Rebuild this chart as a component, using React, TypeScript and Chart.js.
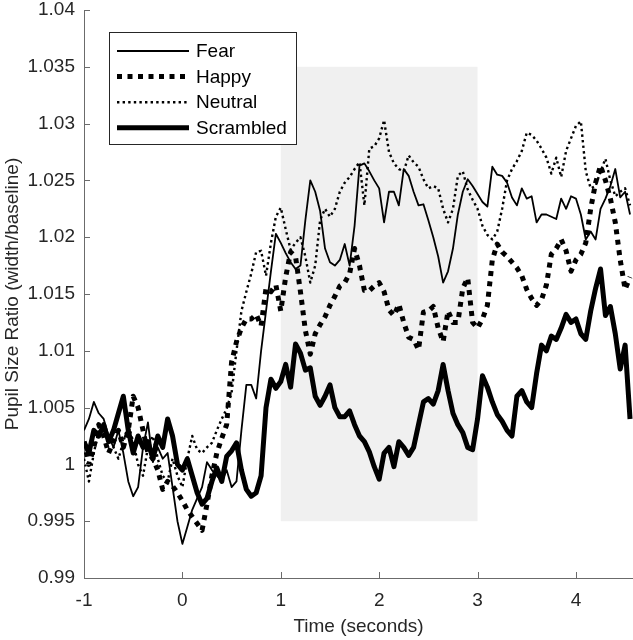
import React, { useEffect, useRef } from "react";
import { Chart, registerables } from "chart.js";

Chart.register(...registerables);

// Time (seconds)
const time = [
  -1, -0.95, -0.9, -0.85, -0.8, -0.75, -0.7, -0.65, -0.6, -0.55, -0.5, -0.45, -0.4, -0.35, -0.3, -0.25, -0.2, -0.15, -0.1, -0.05,
  0, 0.05, 0.1, 0.15, 0.2, 0.25, 0.3, 0.35, 0.4, 0.45, 0.5, 0.55, 0.6, 0.65, 0.7, 0.75, 0.8, 0.85, 0.9, 0.95,
  1, 1.05, 1.1, 1.15, 1.2, 1.25, 1.3, 1.35, 1.4, 1.45, 1.5, 1.55, 1.6, 1.65, 1.7, 1.75, 1.8, 1.85, 1.9, 1.95,
  2, 2.05, 2.1, 2.15, 2.2, 2.25, 2.3, 2.35, 2.4, 2.45, 2.5, 2.55, 2.6, 2.65, 2.7, 2.75, 2.8, 2.85, 2.9, 2.95,
  3, 3.05, 3.1, 3.15, 3.2, 3.25, 3.3, 3.35, 3.4, 3.45, 3.5, 3.55, 3.6, 3.65, 3.7, 3.75, 3.8, 3.85, 3.9, 3.95,
  4, 4.05, 4.1, 4.15, 4.2, 4.25, 4.3, 4.35, 4.4, 4.45, 4.5, 4.55,
];

const fear = [
  1.003, 1.004, 1.0055, 1.0045, 1.004, 1.0025, 1.0015, 1.003, 1.001, 0.9985, 0.9972, 0.998, 1.0015, 1.0037, 1.0002, 1.0015, 1.0005, 1.001, 0.998, 0.995,
  0.993, 0.9945, 0.996, 0.997, 0.998, 1.0002, 0.9995, 0.999, 0.9985, 0.9995, 0.998, 0.9985, 1.003, 1.007, 1.007, 1.0058, 1.01, 1.0135, 1.017, 1.0203,
  1.0195, 1.0186, 1.0178, 1.0172, 1.0175, 1.0215, 1.025, 1.024, 1.0223, 1.019, 1.0178, 1.0175, 1.018, 1.0194, 1.0175, 1.021, 1.0263, 1.0265, 1.0258, 1.025,
  1.0243, 1.0213, 1.024, 1.024, 1.0228, 1.026, 1.0254, 1.024, 1.0228, 1.0229, 1.0215, 1.02, 1.0183, 1.016, 1.017, 1.019, 1.022, 1.024, 1.0251, 1.0245,
  1.0238, 1.0231, 1.0227, 1.0262, 1.0255, 1.0254, 1.0248, 1.0235, 1.0228, 1.0243, 1.0234, 1.0236, 1.0213, 1.022, 1.022, 1.0218, 1.0216, 1.0234, 1.0225, 1.0236,
  1.0234, 1.022, 1.0198, 1.0205, 1.0198, 1.0225, 1.0234, 1.0245, 1.026, 1.0235, 1.024, 1.022,
];

const happy = [
  1.002, 1.0, 1.0015, 1.0035, 1.0025, 1.001, 1.002, 1.003, 1.0015, 1.003, 1.006, 1.005, 1.003, 1.001, 1.0005, 0.9995, 0.9978, 0.9985, 0.9981, 0.9975,
  0.9968, 0.996, 0.9954, 0.9948, 0.9942, 0.9965, 0.999, 1.001, 1.0023, 1.0035, 1.009, 1.0108, 1.012, 1.0128, 1.0128, 1.0132, 1.0122, 1.0155, 1.0152, 1.0158,
  1.0135, 1.0165, 1.0187, 1.0183, 1.0152, 1.0118, 1.0097, 1.0115, 1.0123, 1.013, 1.014, 1.0148, 1.0157, 1.016, 1.0168, 1.019, 1.0175, 1.0153, 1.0153, 1.0157,
  1.016, 1.0152, 1.0136, 1.0131, 1.0141, 1.0125, 1.0112, 1.011, 1.0101, 1.0134, 1.0135, 1.0139, 1.012, 1.0108, 1.0135, 1.0125, 1.0125, 1.0155, 1.0164, 1.0125,
  1.012, 1.0128, 1.014, 1.018, 1.0194, 1.0187, 1.0183, 1.0178, 1.0173, 1.0166, 1.0154, 1.0146, 1.014, 1.0145, 1.0158, 1.0185, 1.019, 1.0198, 1.0188, 1.017,
  1.018, 1.0185, 1.0195, 1.0225, 1.0248, 1.0263, 1.025, 1.0234, 1.0213, 1.018, 1.0154, 1.0165,
];

const neutral = [
  1.0005, 0.9985, 1.001, 1.003, 1.0035, 1.0025, 1.0015, 1.0005, 1.002, 1.0035, 1.002, 1.0, 0.999, 1.0015, 1.0025, 1.0005, 0.999, 0.9985, 1.0005, 0.999,
  0.998, 1.0005, 1.0025, 1.0013, 1.001, 1.0015, 1.0019, 1.003, 1.004, 1.0049, 1.0063, 1.01, 1.0135, 1.0152, 1.0168, 1.0187, 1.0188, 1.0166, 1.0195, 1.0218,
  1.0226, 1.0207, 1.0189, 1.0195, 1.02, 1.0183, 1.016, 1.0175, 1.0215, 1.0225, 1.0218, 1.0225, 1.024, 1.0248, 1.0253, 1.026, 1.0266, 1.0228, 1.0278, 1.028,
  1.0287, 1.0303, 1.0275, 1.0265, 1.026, 1.0258, 1.0272, 1.0266, 1.0262, 1.0251, 1.0243, 1.0245, 1.0243, 1.0225, 1.0213, 1.0225, 1.0254, 1.0258, 1.0242, 1.0233,
  1.0225, 1.021, 1.0202, 1.0198, 1.0205, 1.0225, 1.025, 1.026, 1.0267, 1.0276, 1.0292, 1.029, 1.0285, 1.0278, 1.027, 1.0256, 1.027, 1.0253, 1.0276, 1.0287,
  1.0298, 1.0302, 1.0258, 1.0243, 1.0245, 1.0258, 1.0269, 1.025, 1.0236, 1.024, 1.0243, 1.0228,
];

const scrambled = [
  1.002, 1.001, 1.003, 1.0025, 1.0035, 1.002, 1.003, 1.0045, 1.006, 1.003, 1.001, 1.0025, 1.0015, 1.002, 1.0005, 1.0025, 1.0015, 1.004, 1.0025, 1.0,
  0.9995, 1.0005, 0.999, 0.9975, 0.9965, 0.997, 0.9985, 0.9997, 0.9985, 1.0007, 1.0012, 1.0019, 0.9995, 0.9978, 0.9972, 0.9975, 0.999, 1.005, 1.0075, 1.0067,
  1.0073, 1.0088, 1.0068, 1.0106, 1.0098, 1.0083, 1.0085, 1.006, 1.0052, 1.006, 1.007, 1.005, 1.0042, 1.0042, 1.0047, 1.0035, 1.0025, 1.002, 1.0011, 0.9998,
  0.9987, 1.001, 1.0015, 0.9998, 1.002, 1.0015, 1.0008, 1.0015, 1.0035, 1.0055, 1.0058, 1.0053, 1.0065, 1.0088, 1.0065, 1.0045, 1.0035, 1.0028, 1.0015, 1.0013,
  1.004, 1.0078, 1.0068, 1.0055, 1.0044, 1.0038, 1.003, 1.0025, 1.006, 1.0065, 1.0055, 1.005, 1.008, 1.0105, 1.01, 1.0113, 1.011, 1.012, 1.0132, 1.0125,
  1.0128, 1.0115, 1.011, 1.0135, 1.0155, 1.0172, 1.0131, 1.0139, 1.0115, 1.0084, 1.0105, 1.004,
];

const seriesNames = ["Fear", "Happy", "Neutral", "Scrambled"];

const xTicks = [-1, 0, 1, 2, 3, 4];
const xTickLabels = ["-1", "0", "1", "2", "3", "4"];
const yTicks = [0.99, 0.995, 1, 1.005, 1.01, 1.015, 1.02, 1.025, 1.03, 1.035, 1.04];
const yTickLabels = ["0.99", "0.995", "1", "1.005", "1.01", "1.015", "1.02", "1.025", "1.03", "1.035", "1.04"];

const xRange = [-1, 4.58];
const yRange = [0.99, 1.04];

// Stimulus window (shaded)
const windowTime = [1, 3];
const windowRatio = [0.995, 1.035];

const FONT = '"Liberation Sans", Arial, Helvetica, sans-serif';
const AXIS_COLOR = "#6b6b6b";
const TEXT_COLOR = "#262626";

export default function App() {
  const ref = useRef<HTMLCanvasElement | null>(null);

  useEffect(() => {
    if (!ref.current) return;

    const shade = {
      id: "shade",
      beforeDatasetsDraw(chart: any) {
        const { ctx, scales } = chart;
        const x0 = scales.x.getPixelForValue(windowTime[0]);
        const x1 = scales.x.getPixelForValue(windowTime[1]);
        const y0 = scales.y.getPixelForValue(windowRatio[1]);
        const y1 = scales.y.getPixelForValue(windowRatio[0]);
        ctx.save();
        ctx.fillStyle = "#f0f0f0";
        ctx.fillRect(x0, y0, x1 - x0, y1 - y0);
        ctx.restore();
      },
    };

    const inwardTicks = {
      id: "inwardTicks",
      afterDatasetsDraw(chart: any) {
        const { ctx, scales, chartArea } = chart;
        ctx.save();
        ctx.strokeStyle = AXIS_COLOR;
        ctx.lineWidth = 1;
        ctx.setLineDash([]);
        ctx.beginPath();
        xTicks.forEach((v) => {
          const px = Math.round(scales.x.getPixelForValue(v)) + 0.5;
          ctx.moveTo(px, chartArea.bottom);
          ctx.lineTo(px, chartArea.bottom - 6);
        });
        yTicks.forEach((v) => {
          const py = Math.round(scales.y.getPixelForValue(v)) + 0.5;
          ctx.moveTo(chartArea.left, py);
          ctx.lineTo(chartArea.left + 6, py);
        });
        ctx.stroke();
        ctx.restore();
      },
    };

    const boxLegend = {
      id: "boxLegend",
      afterDraw(chart: any) {
        const { ctx } = chart;
        ctx.save();
        ctx.fillStyle = "#ffffff";
        ctx.fillRect(109.5, 32.5, 187, 112);
        ctx.strokeStyle = TEXT_COLOR;
        ctx.lineWidth = 1;
        ctx.setLineDash([]);
        ctx.strokeRect(109.5, 32.5, 187, 112);
        chart.data.datasets.forEach((ds: any, i: number) => {
          const y = 51 + i * 25.6;
          ctx.beginPath();
          ctx.setLineDash(ds.borderDash || []);
          ctx.lineWidth = ds.borderWidth;
          ctx.strokeStyle = ds.borderColor;
          ctx.lineCap = "butt";
          ctx.moveTo(117, y);
          ctx.lineTo(189, y);
          ctx.stroke();
          ctx.setLineDash([]);
          ctx.fillStyle = "#000";
          ctx.font = `19px ${FONT}`;
          ctx.textBaseline = "middle";
          ctx.textAlign = "left";
          ctx.fillText(ds.label, 196, y + 1);
        });
        ctx.restore();
      },
    };

    const series = [fear, happy, neutral, scrambled];
    const styles = [
      { borderWidth: 1.8, borderDash: [] as number[], order: 3 },
      { borderWidth: 5, borderDash: [5, 5.5], order: 2 },
      { borderWidth: 2.4, borderDash: [2.4, 3.2], order: 1 },
      { borderWidth: 5, borderDash: [] as number[], order: 0 },
    ];

    const chart = new Chart(ref.current, {
      type: "line",
      data: {
        datasets: series.map((vals, i) => ({
          label: seriesNames[i],
          data: time.map((t, j) => ({ x: t, y: vals[j] })),
          borderColor: "#000000",
          backgroundColor: "#000000",
          borderWidth: styles[i].borderWidth,
          borderDash: styles[i].borderDash,
          borderJoinStyle: "round" as const,
          borderCapStyle: "butt" as const,
          pointRadius: 0,
          tension: 0,
          fill: false,
          order: styles[i].order,
        })),
      },
      options: {
        animation: false,
        responsive: false,
        maintainAspectRatio: false,
        layout: { padding: { top: 10, right: 0, bottom: 0, left: 0 } },
        plugins: {
          legend: { display: false },
          tooltip: { enabled: false },
        },
        font: { family: FONT },
        scales: {
          x: {
            type: "linear",
            min: xRange[0],
            max: xRange[1],
            afterBuildTicks: (scale: any) => {
              scale.ticks = xTicks.map((v) => ({ value: v }));
            },
            afterFit: (scale: any) => {
              scale.height = 62;
              scale.paddingLeft = 0;
              scale.paddingRight = 0;
            },
            grid: { display: false, drawTicks: false },
            border: { display: true, color: AXIS_COLOR, width: 1 },
            ticks: {
              padding: 11,
              maxRotation: 0,
              autoSkip: false,
              color: TEXT_COLOR,
              font: { family: FONT, size: 19 },
              callback: (_v: any, i: number) => xTickLabels[i],
            },
            title: {
              display: true,
              text: "Time (seconds)",
              color: TEXT_COLOR,
              font: { family: FONT, size: 19 },
              padding: { top: 0, bottom: 2 },
            },
          },
          y: {
            type: "linear",
            min: yRange[0],
            max: yRange[1],
            afterBuildTicks: (scale: any) => {
              scale.ticks = yTicks.map((v) => ({ value: v }));
            },
            afterFit: (scale: any) => {
              scale.width = 84;
              scale.paddingTop = 0;
              scale.paddingBottom = 0;
            },
            grid: { display: false, drawTicks: false },
            border: { display: true, color: AXIS_COLOR, width: 1 },
            ticks: {
              padding: 9,
              autoSkip: false,
              color: TEXT_COLOR,
              font: { family: FONT, size: 19 },
              callback: (_v: any, i: number) => yTickLabels[i],
            },
            title: {
              display: true,
              text: "Pupil Size Ratio (width/baseline)",
              color: TEXT_COLOR,
              font: { family: FONT, size: 19 },
              padding: { top: 1, bottom: 0 },
            },
          },
        },
      } as any,
      plugins: [shade, inwardTicks, boxLegend],
    });

    return () => chart.destroy();
  }, []);

  return (
    <div style={{ position: "absolute", left: 0, top: 0, width: 633, height: 640, background: "#ffffff" }}>
      <canvas ref={ref} width={633} height={640} style={{ display: "block", width: 633, height: 640 }} />
    </div>
  );
}
